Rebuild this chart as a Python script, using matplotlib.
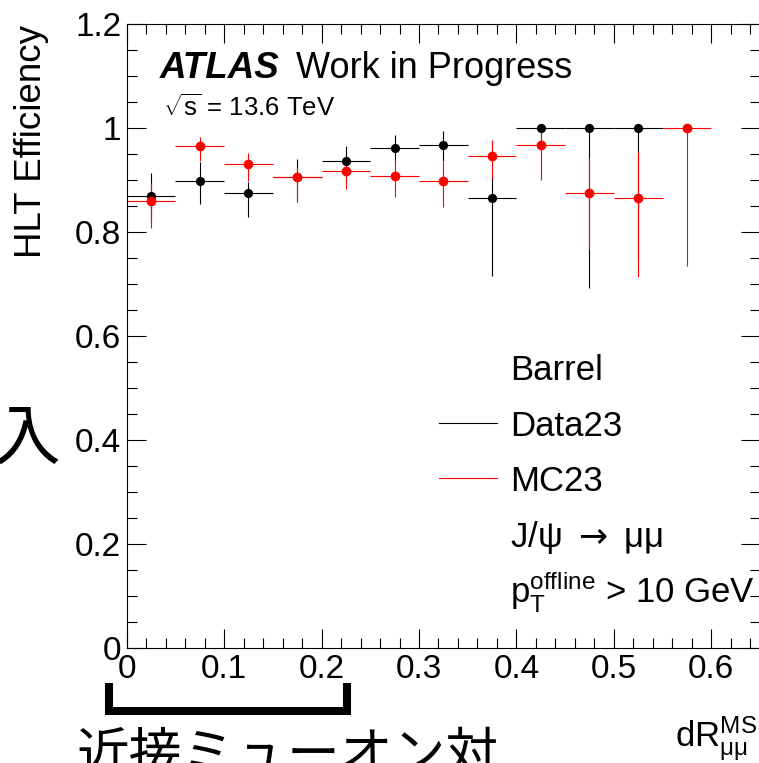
import numpy as np
import matplotlib
matplotlib.use("Agg")
import matplotlib.pyplot as plt
from matplotlib.ticker import MultipleLocator
from matplotlib.lines import Line2D

plt.rcParams['font.family'] = ['Liberation Sans', 'DejaVu Sans']
plt.rcParams['mathtext.fontset'] = 'custom'
plt.rcParams['mathtext.rm'] = 'Liberation Sans'
plt.rcParams['mathtext.it'] = 'Liberation Sans:italic'
plt.rcParams['mathtext.bf'] = 'Liberation Sans:bold'

# bin centres in dR (bin width 0.05)
dr_data = [0.025, 0.075, 0.125, 0.175, 0.225, 0.275, 0.325, 0.375, 0.425, 0.475, 0.525]
eff_data = [0.869, 0.899, 0.875, 0.906, 0.936, 0.962, 0.967, 0.865, 1.0, 1.0, 1.0]
data_lo = [0.045, 0.046, 0.047, 0.048, 0.030, 0.027, 0.031, 0.150, 0.040, 0.308, 0.250]
data_hi = [0.044, 0.036, 0.022, 0.034, 0.030, 0.025, 0.027, 0.040, 0.0, 0.0, 0.0]

dr_mc = [0.025, 0.075, 0.125, 0.175, 0.225, 0.275, 0.325, 0.375, 0.425, 0.475, 0.525, 0.575]
eff_mc = [0.859, 0.966, 0.930, 0.905, 0.918, 0.908, 0.898, 0.947, 0.967, 0.875, 0.865, 1.0]
mc_lo = [0.051, 0.029, 0.032, 0.047, 0.036, 0.040, 0.049, 0.045, 0.067, 0.108, 0.151, 0.266]
mc_hi = [0.036, 0.017, 0.022, 0.020, 0.015, 0.032, 0.039, 0.029, 0.033, 0.068, 0.088, 0.0]
half_bin = 0.025

W, H = 759, 763
fig = plt.figure(figsize=(W / 100, H / 100), dpi=100)
ax = fig.add_axes([126.7 / W, 1 - 648 / H, (760 - 126.7) / W, (648 - 24) / H])

ax.errorbar(dr_data, eff_data, xerr=half_bin, yerr=[data_lo, data_hi],
            fmt='o', color='black', ms=5.6, lw=0.8, capsize=0)
ax.errorbar(dr_mc, eff_mc, xerr=half_bin, yerr=[mc_lo, mc_hi],
            fmt='o', color='red', ms=6.0, lw=0.8, capsize=0)

ax.set_xlim(0, 0.65)
ax.set_ylim(0, 1.2)
ax.xaxis.set_minor_locator(MultipleLocator(0.02))
ax.yaxis.set_minor_locator(MultipleLocator(0.05))
ax.set_xticks([0, 0.1, 0.2, 0.3, 0.4, 0.5, 0.6])
ax.set_xticklabels(['0', '0.1', '0.2', '0.3', '0.4', '0.5', '0.6'])
ax.set_yticks([0, 0.2, 0.4, 0.6, 0.8, 1.0, 1.2])
ax.set_yticklabels(['0', '0.2', '0.4', '0.6', '0.8', '1', '1.2'])
ax.tick_params(which='both', direction='in', top=True, right=True, width=0.8, labelsize=24)
ax.tick_params(which='major', length=14)
ax.tick_params(which='minor', length=7)
ax.tick_params(axis='x', pad=4)
ax.tick_params(axis='y', pad=4)
for s in ax.spines.values():
    s.set_linewidth(0.8)

fig.text(31.5 / W, 1 - 25 / H, 'HLT Efficiency', rotation=90, ha='center', va='top', fontsize=26.5)
fig.text(757 / W, 1 - 747 / H, r'dR$_{\mathrm{μμ}}^{\mathrm{MS}}$', ha='right', va='baseline', fontsize=25)

fig.text(160 / W, 1 - 78 / H, 'ATLAS', fontsize=26.5, fontweight='bold', fontstyle='italic', va='baseline')
fig.text(296 / W, 1 - 78 / H, 'Work in Progress', fontsize=26, va='baseline')
fig.text(163 / W, 1 - 116 / H, r'$\sqrt{\mathrm{s}}$ = 13.6 TeV', fontsize=18.5, va='baseline')

# legend block
rows = [380, 436, 491, 547, 603]
labels = ['Barrel', 'Data23', 'MC23', r'J/ψ $\rightarrow$ μμ', r'$\mathrm{p}_{\mathrm{T}}^{\mathrm{offline}}$ > 10 GeV']
for yb, lab in zip(rows, labels):
    mf = 'dejavusans' if 'rightarrow' in lab else None
    fig.text(510 / W, 1 - yb / H, lab, fontsize=25, va='baseline', math_fontfamily=mf)
for yl, c in [(423, 'black'), (478, 'red')]:
    fig.add_artist(Line2D([439 / W, 497 / W], [1 - yl / H, 1 - yl / H], color=c, lw=0.8))

# slide annotations
fig.add_artist(Line2D([109 / W, 109 / W, 346.5 / W, 346.5 / W],
                      [1 - 683 / H, 1 - 711 / H, 1 - 711 / H, 1 - 683 / H],
                      color='black', lw=5.8, solid_joinstyle='miter', solid_capstyle='butt'))
fig.text(76 / W, 1 - 771 / H, '近接ミューオン対', fontsize=38,
         family=['Noto Sans CJK JP', 'DejaVu Sans'], va='baseline')
fig.text(60 / W, 1 - 459 / H, '入', fontsize=48,
         family=['Noto Sans CJK JP', 'DejaVu Sans'], ha='right', va='baseline')

fig.savefig('out.png', dpi=100)
